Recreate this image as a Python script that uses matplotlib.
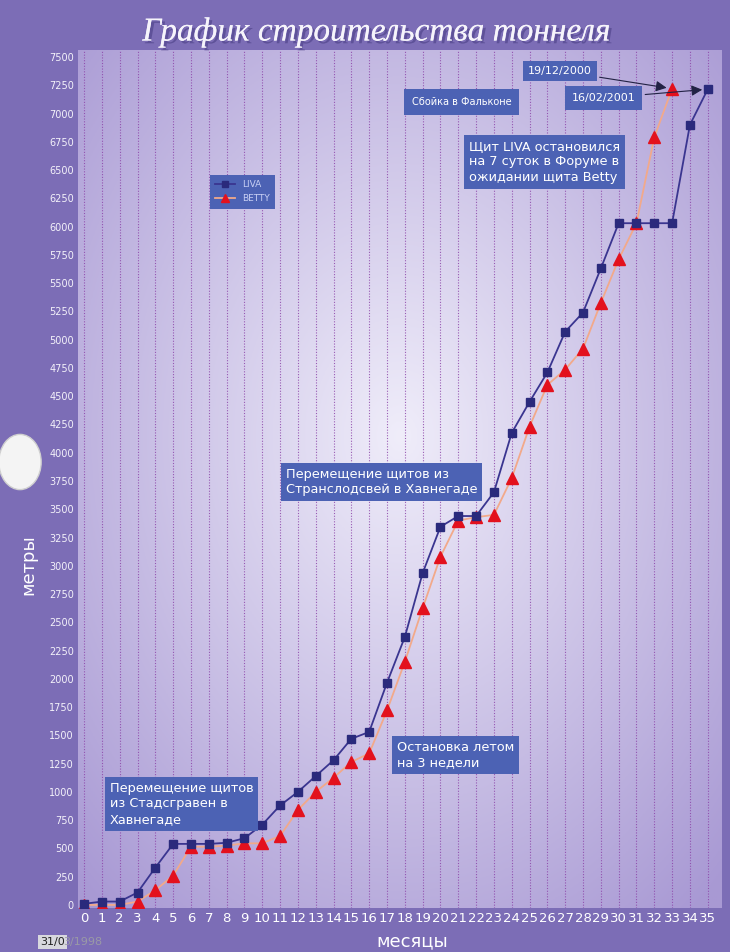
import numpy as np
import matplotlib
matplotlib.use("Agg")
import matplotlib.pyplot as plt
import matplotlib.patheffects as pe
from matplotlib.patches import Circle

# months 0..35, metres
months_liva = list(range(36))
liva = [10, 30, 30, 110, 330, 540, 540, 540, 550, 590, 710, 880, 1000, 1140, 1280, 1470,
        1530, 1965, 2370, 2935, 3345, 3440, 3440, 3650, 4175, 4450, 4710, 5070, 5240, 5630,
        6030, 6030, 6030, 6030, 6900, 7215]
months_betty = list(range(34))
betty = [0, 0, 0, 30, 130, 260, 515, 515, 525, 545, 545, 610, 840, 1000, 1125, 1265,
         1340, 1720, 2150, 2625, 3080, 3400, 3430, 3450, 3775, 4230, 4600, 4735, 4920, 5325,
         5710, 6030, 6790, 7220]

yticks = list(range(0, 7501, 250))
xticks = list(range(36))

W, H = 730, 952
fig = plt.figure(figsize=(W / 100, H / 100), dpi=100)
fig.patch.set_facecolor("#7c6db6")


def fx(x):
    return x / W


def fy(y):
    return 1 - y / H


ax = fig.add_axes([fx(78), fy(908), fx(722) - fx(78), fy(50) - fy(908)])
ax.set_xlim(-0.34, 35.8)
ax.set_ylim(-27, 7562)

# radial light background of the plot area
gx, gy = np.meshgrid(np.linspace(0, 1, 300), np.linspace(0, 1, 300))
r = np.sqrt(((gx - 0.5) / 0.72) ** 2 + ((gy - 0.55) / 0.72) ** 2)
r = np.clip(r, 0, 1)
c0 = np.array([0.94, 0.93, 0.98])
c1 = np.array([0.66, 0.60, 0.83])
img = c0[None, None, :] * (1 - r[..., None]) + c1[None, None, :] * r[..., None]
ax.imshow(img, extent=[0, 1, 0, 1], transform=ax.transAxes, aspect="auto", zorder=0, origin="lower")

for m in xticks:
    ax.axvline(m, color="#8c44a8", lw=0.8, ls=(0, (1, 1.5)), alpha=0.85, zorder=1)

ax.plot(months_betty, betty, color="#f2a98a", lw=1.3, marker="^", ms=8,
        mfc="#e3111d", mec="#e3111d", zorder=3, label="BETTY")
ax.plot(months_liva, liva, color="#3a3590", lw=1.3, marker="s", ms=6,
        mfc="#2a2a7c", mec="#2a2a7c", zorder=4, label="LIVA")

ax.set_yticks(yticks)
ax.set_yticklabels([str(v) for v in yticks], color="#f4f2fa", fontsize=7,
                   family="Liberation Sans Narrow")
ax.set_xticks(xticks)
ax.set_xticklabels([str(v) for v in xticks], color="white", fontsize=9.5,
                   family="Liberation Sans Narrow")
ax.tick_params(axis="both", length=0, pad=3)
for s in ax.spines.values():
    s.set_visible(False)

fig.text(fx(377), fy(32), "График строительства тоннеля", ha="center", va="center",
         fontsize=24, style="italic", family="Liberation Serif", color="#f6f4fb",
         path_effects=[pe.withSimplePatchShadow(offset=(2, -2), shadow_rgbFace="#4b3f86",
                                                alpha=0.6), pe.Normal()])

fig.text(fx(28), fy(565), "метры", rotation=90, ha="center", va="center",
         fontsize=13, color="white")
fig.text(fx(412), fy(941), "месяцы", ha="center", va="center", fontsize=13, color="white")

fig.text(fx(40), fy(942), "31/0", ha="left", va="center", fontsize=8, color="#222222",
         bbox=dict(boxstyle="square,pad=0.2", fc="#d8d8de", ec="none"))
fig.text(fx(63), fy(942), "3/1998", ha="left", va="center", fontsize=8, color="#9a9aa6")

# scan punch hole
fig.patches.append(Circle((fx(20), fy(462)), 0.029, transform=fig.transFigure,
                          fc="#f4f4f4", ec="#cfcfcf", lw=1, zorder=5))

box = dict(boxstyle="square,pad=0.35", fc="#4c62b4", ec="none")
box_tall = dict(boxstyle="square,pad=0.6", fc="#4c62b4", ec="none")


def note(x, y, s, size=9.3, bb=box):
    fig.text(fx(x), fy(y), s, ha="left", va="top", fontsize=size, color="white",
             linespacing=1.25, bbox=bb, zorder=6)


note(286, 468, "Перемещение щитов из\nСтранслодсвей в Хавнегаде")
note(397, 741, "Остановка летом\nна 3 недели")
note(110, 782, "Перемещение щитов\nиз Стадсгравен в\nХавнегаде")
note(469, 140, "Щит LIVA остановился\nна 7 суток в Форуме в\nожидании щита Betty")
note(412, 97, "Сбойка в Фальконе", size=7, bb=dict(boxstyle="square,pad=0.8",
                                                   fc="#4c62b4", ec="none"))

ax.annotate("19/12/2000", xy=(months_betty[-1], betty[-1]), xycoords="data",
            xytext=(fx(528), fy(66)), textcoords="figure fraction", ha="left", va="top",
            fontsize=8, color="white", bbox=dict(boxstyle="square,pad=0.45", fc="#4c62b4", ec="none"),
            arrowprops=dict(arrowstyle="-|>", color="#222244", lw=0.8, mutation_scale=16,
                            shrinkB=4))
ax.annotate("16/02/2001", xy=(months_liva[-1], liva[-1]), xycoords="data",
            xytext=(fx(572), fy(93)), textcoords="figure fraction", ha="left", va="top",
            fontsize=8, color="white", bbox=box_tall,
            arrowprops=dict(arrowstyle="-|>", color="#222244", lw=0.8, mutation_scale=16,
                            shrinkB=4))

h, l = ax.get_legend_handles_labels()
leg = ax.legend(h[::-1], l[::-1], loc="upper left", bbox_to_anchor=(fx(205), fy(170)),
                bbox_transform=fig.transFigure, fontsize=6.5, frameon=True,
                facecolor="#4c62b4", edgecolor="none", framealpha=1, fancybox=False,
                handlelength=2.2, borderpad=0.6, labelspacing=0.6, markerscale=0.8)
for t in leg.get_texts():
    t.set_color("#c9d0f4")

fig.savefig("out.png", dpi=100, facecolor=fig.get_facecolor())
